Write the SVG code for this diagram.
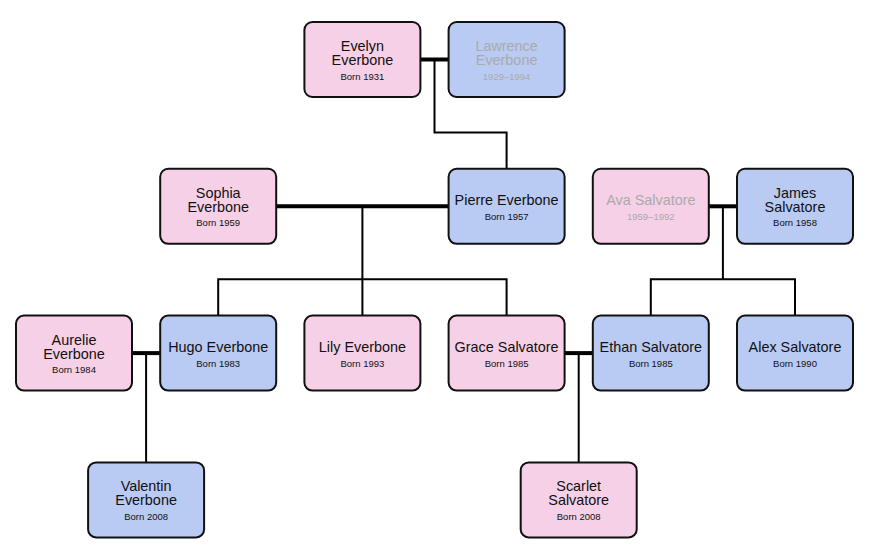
<svg xmlns="http://www.w3.org/2000/svg" width="869" height="553" viewBox="0 0 869 553">
<style>
.box{stroke:#111;stroke-width:2}
.f{fill:#f6d0e6}
.m{fill:#b9caf3}
.n{font-family:"Liberation Sans",Arial,sans-serif;font-size:14.4px;fill:#111;text-anchor:middle}
.d{font-family:"Liberation Sans",Arial,sans-serif;font-size:9.5px;fill:#111;text-anchor:middle}
.dead{fill:#aaaaaa}
.link{fill:none;stroke:#000;stroke-width:2}
.marr{fill:none;stroke:#000;stroke-width:4}
</style>
<rect width="869" height="553" fill="#fff"/>
<g id="connectors">
<path class="marr" d="M420.4,59.5H448.6"/>
<path class="link" d="M434.5,59.5V132.5H506.6V168.8"/>
<path class="marr" d="M276.2,206.3H448.6"/>
<path class="link" d="M362.4,206.3V279.3M218.2,315.6V279.3H506.6V315.6M362.4,279.3V315.6"/>
<path class="marr" d="M708.8,206.3H737"/>
<path class="link" d="M722.9,206.3V279.3M650.8,315.6V279.3H795V315.6"/>
<path class="marr" d="M132,353.1H160.2"/>
<path class="link" d="M146.1,353.1V462.4"/>
<path class="marr" d="M564.6,353.1H592.8"/>
<path class="link" d="M578.7,353.1V462.4"/>
</g>
<g id="evelyn"><rect class="box f" x="304.4" y="22" width="116" height="75" rx="8"/><text class="n" x="362.4" y="51">Evelyn</text><text class="n" x="362.4" y="65">Everbone</text><text class="d" x="362.4" y="79.5">Born 1931</text></g>
<g id="lawrence"><rect class="box m" x="448.6" y="22" width="116" height="75" rx="8"/><text class="n dead" x="506.6" y="51">Lawrence</text><text class="n dead" x="506.6" y="65">Everbone</text><text class="d dead" x="506.6" y="79.5">1929–1994</text></g>
<g id="sophia"><rect class="box f" x="160.2" y="168.8" width="116" height="75" rx="8"/><text class="n" x="218.2" y="197.7">Sophia</text><text class="n" x="218.2" y="211.7">Everbone</text><text class="d" x="218.2" y="226.3">Born 1959</text></g>
<g id="pierre"><rect class="box m" x="448.6" y="168.8" width="116" height="75" rx="8"/><text class="n" x="506.6" y="205">Pierre Everbone</text><text class="d" x="506.6" y="220">Born 1957</text></g>
<g id="ava"><rect class="box f" x="592.8" y="168.8" width="116" height="75" rx="8"/><text class="n dead" x="650.8" y="205">Ava Salvatore</text><text class="d dead" x="650.8" y="220">1959–1992</text></g>
<g id="james"><rect class="box m" x="737" y="168.8" width="116" height="75" rx="8"/><text class="n" x="795" y="197.7">James</text><text class="n" x="795" y="211.7">Salvatore</text><text class="d" x="795" y="226.3">Born 1958</text></g>
<g id="aurelie"><rect class="box f" x="16" y="315.6" width="116" height="75" rx="8"/><text class="n" x="74" y="344.5">Aurelie</text><text class="n" x="74" y="358.5">Everbone</text><text class="d" x="74" y="373.1">Born 1984</text></g>
<g id="hugo"><rect class="box m" x="160.2" y="315.6" width="116" height="75" rx="8"/><text class="n" x="218.2" y="351.8">Hugo Everbone</text><text class="d" x="218.2" y="366.8">Born 1983</text></g>
<g id="lily"><rect class="box f" x="304.4" y="315.6" width="116" height="75" rx="8"/><text class="n" x="362.4" y="351.8">Lily Everbone</text><text class="d" x="362.4" y="366.8">Born 1993</text></g>
<g id="grace"><rect class="box f" x="448.6" y="315.6" width="116" height="75" rx="8"/><text class="n" x="506.6" y="351.8">Grace Salvatore</text><text class="d" x="506.6" y="366.8">Born 1985</text></g>
<g id="ethan"><rect class="box m" x="592.8" y="315.6" width="116" height="75" rx="8"/><text class="n" x="650.8" y="351.8">Ethan Salvatore</text><text class="d" x="650.8" y="366.8">Born 1985</text></g>
<g id="alex"><rect class="box m" x="737" y="315.6" width="116" height="75" rx="8"/><text class="n" x="795" y="351.8">Alex Salvatore</text><text class="d" x="795" y="366.8">Born 1990</text></g>
<g id="valentin"><rect class="box m" x="88.1" y="462.4" width="116" height="75" rx="8"/><text class="n" x="146.1" y="491.3">Valentin</text><text class="n" x="146.1" y="505.3">Everbone</text><text class="d" x="146.1" y="519.9">Born 2008</text></g>
<g id="scarlet"><rect class="box f" x="520.7" y="462.4" width="116" height="75" rx="8"/><text class="n" x="578.7" y="491.3">Scarlet</text><text class="n" x="578.7" y="505.3">Salvatore</text><text class="d" x="578.7" y="519.9">Born 2008</text></g>
</svg>
